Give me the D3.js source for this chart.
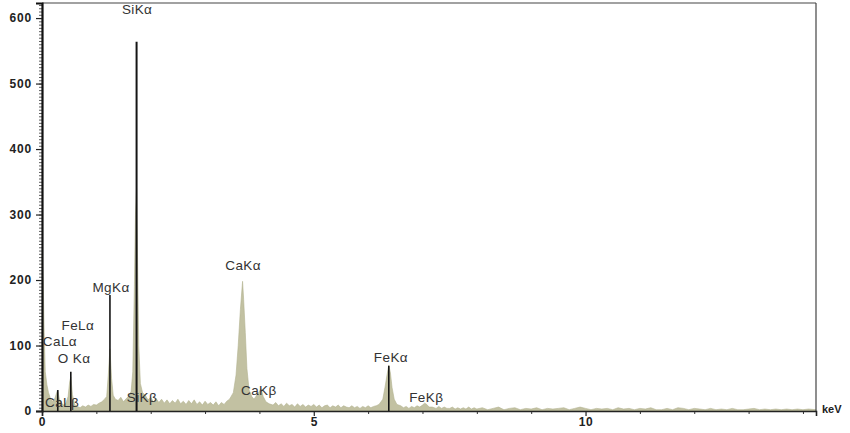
<!DOCTYPE html>
<html>
<head>
<meta charset="utf-8">
<script src="https://cdn.jsdelivr.net/npm/d3@7"></script>
<style>
  html, body { margin: 0; padding: 0; background: #fff; }
  svg { display: block; font-family: "Liberation Sans", Arial, sans-serif; }
</style>
</head>
<body>
<svg id="chart" width="850" height="433"></svg>
<script>
// ---- data ----
const xTicks = [0, 5, 10];
const xMinorTicks = [1, 2, 3, 4, 6, 7, 8, 9, 11, 12, 13, 14];
const yTicks = [0, 100, 200, 300, 400, 500, 600];
const xMax = 14.24;
const yMax = 623;

// spectrum: [keV, counts]
const spectrum = [
  [0,0],[0.005,238],[0.02,205],[0.04,120],[0.06,60],[0.09,40],[0.12,28],[0.16,18],[0.2,14],[0.24,20],
  [0.27,28],[0.29,32],[0.32,18],[0.36,12],[0.4,9],[0.44,12],[0.48,22],[0.51,45],[0.53,52],[0.56,25],[0.6,10],
  [0.65,7],[0.7,5],[0.75,8],[0.8,6],[0.85,9],[0.9,7],[0.95,10],[1.0,9],[1.05,12],[1.1,14],[1.15,18],
  [1.19,22],[1.22,55],[1.25,95],[1.28,50],[1.31,24],[1.35,18],
  [1.4,16],[1.45,21],[1.5,14],[1.55,19],[1.6,23],[1.64,30],
  [1.67,60],[1.7,190],[1.72,300],[1.74,340],[1.76,220],[1.78,100],[1.81,42],[1.85,28],
  [1.9,24],[1.95,17],[2.0,21],[2.05,14],[2.1,19],[2.15,13],[2.2,18],[2.25,12],[2.3,17],[2.35,11],
  [2.4,16],[2.45,12],[2.5,18],[2.55,11],[2.6,15],[2.65,10],[2.7,16],[2.75,11],[2.8,17],[2.85,10],
  [2.9,14],[2.95,9],[3.0,15],[3.05,10],[3.1,13],[3.15,9],[3.2,14],[3.25,8],[3.3,13],[3.35,10],
  [3.4,15],[3.45,18],
  [3.52,28],[3.57,55],[3.61,100],[3.65,155],[3.69,198],[3.71,170],[3.74,120],[3.77,65],[3.81,32],[3.86,22],
  [3.9,18],[3.95,24],[4.0,30],[4.03,34],[4.07,22],[4.12,14],[4.18,11],
  [4.25,9],[4.3,13],[4.35,8],[4.4,11],[4.45,7],[4.5,12],[4.55,8],[4.6,10],[4.65,6],[4.7,11],
  [4.75,7],[4.8,10],[4.85,6],[4.9,9],[4.95,7],[5.0,10],[5.05,6],[5.1,9],[5.15,5],[5.2,8],
  [5.25,9],[5.3,5],[5.35,8],[5.4,6],[5.45,9],[5.5,5],[5.55,8],[5.6,6],[5.65,5],[5.7,8],
  [5.75,5],[5.8,7],[5.85,4],[5.9,7],[5.95,5],[6.0,8],[6.05,5],[6.1,7],[6.15,8],[6.2,10],
  [6.27,18],[6.31,36],[6.35,56],[6.38,70],[6.41,58],[6.44,36],[6.48,18],[6.53,10],
  [6.6,8],[6.65,5],[6.7,7],[6.75,4],[6.8,7],[6.85,5],[6.9,8],[6.95,6],[7.0,9],[7.04,12],
  [7.08,10],[7.12,6],[7.18,6],[7.25,4],[7.3,7],[7.35,4],[7.4,6],[7.45,4],[7.5,4],[7.55,6],
  [7.6,3],[7.65,5],[7.7,3],[7.75,5],[7.8,3],[7.85,6],[7.9,3],[7.95,5],[8.0,3],
  [8.1,5],[8.2,2],[8.3,4],[8.4,6],[8.5,2],[8.6,4],[8.7,5],[8.8,2],[8.9,4],[9.0,3],
  [9.1,5],[9.2,2],[9.3,4],[9.4,3],[9.5,4],[9.6,5],[9.7,2],[9.8,4],[9.9,6],[10.0,4],
  [10.1,2],[10.2,4],[10.3,3],[10.4,4],[10.5,2],[10.6,5],[10.7,3],[10.8,4],[10.9,2],[11.0,4],
  [11.1,3],[11.2,5],[11.3,2],[11.4,2],[11.5,4],[11.6,2],[11.7,5],[11.8,4],[11.9,2],[12.0,4],
  [12.1,3],[12.2,2],[12.3,4],[12.4,2],[12.5,3],[12.6,2],[12.7,4],[12.8,2],[12.9,2],[13.0,3],
  [13.1,4],[13.2,2],[13.3,3],[13.4,2],[13.5,3],[13.6,2],[13.7,3],[13.8,2],[13.9,3],[14.0,2],
  [14.1,3],[14.24,2]
];

// marker lines: keV, counts
const markerKeV = [0.29, 0.53, 1.25, 1.74, 6.38];
const markerCounts = [32, 60, 177, 564, 69];

// peak labels: text, keV, counts (anchor of label)
const labelText = ["SiKα", "MgKα", "FeLα", "CaLα", "O Kα", "CaLβ", "SiKβ", "CaKα", "CaKβ", "FeKα", "FeKβ"];
const labelKeV = [1.75, 1.27, 0.66, 0.33, 0.59, 0.37, 1.84, 3.70, 3.99, 6.42, 7.07];
const labelCounts = [606, 182, 124, 99, 73, 6, 14, 215, 24, 75, 14];

// ---- drawing ----
const svg = d3.select("#chart");
const margin = {left: 42, top: 3, right: 34, bottom: 22};
const W = 850, H = 433;
const x = d3.scaleLinear().domain([0, xMax]).range([margin.left, W - margin.right]);
const y = d3.scaleLinear().domain([0, yMax]).range([H - margin.bottom, margin.top]);

// spectrum area
const area = d3.area().x(d => x(d[0])).y0(y(0)).y1(d => y(d[1])).curve(d3.curveLinear);
svg.append("path").datum(spectrum)
  .attr("d", area)
  .attr("fill", "#c2c1a2")
  .attr("stroke", "#b2b18e")
  .attr("stroke-width", 0.6);

// marker lines
svg.append("g").selectAll("line").data(markerKeV).join("line")
  .attr("x1", d => x(d)).attr("x2", d => x(d))
  .attr("y1", y(0)).attr("y2", (d, i) => y(markerCounts[i]))
  .attr("stroke", "#151515")
  .attr("stroke-width", (d, i) => markerCounts[i] > 300 ? 2 : 1.6);

// frame top and right
svg.append("line").attr("x1", x(0)).attr("x2", x(xMax)).attr("y1", y(yMax)).attr("y2", y(yMax))
  .attr("stroke", "#444").attr("stroke-width", 1.2);
svg.append("line").attr("x1", x(xMax)).attr("x2", x(xMax)).attr("y1", y(yMax)).attr("y2", y(0))
  .attr("stroke", "#444").attr("stroke-width", 1.2);

// y axis
const yMinor = d3.range(0, 621, 5);
const yAxisMinor = d3.axisLeft(y).tickValues(yMinor).tickSize(3).tickFormat("");
const gyMinor = svg.append("g").attr("transform", `translate(${x(0)},0)`).call(yAxisMinor);
gyMinor.select(".domain").remove();
gyMinor.selectAll("line").attr("stroke", "#333").attr("stroke-width", 0.8);

const yAxis = d3.axisLeft(y).tickValues(yTicks).tickSize(6).tickPadding(4).tickFormat(d3.format("d"));
const gy = svg.append("g").attr("transform", `translate(${x(0)},0)`).call(yAxis);
gy.select(".domain").attr("stroke", "#111").attr("stroke-width", 2.2);
gy.selectAll("line").attr("stroke", "#222").attr("stroke-width", 1.2);
gy.selectAll("text").attr("font-size", 12).attr("font-weight", "bold").attr("fill", "#222")
  .attr("letter-spacing", 0.8).attr("font-family", "Liberation Sans, Arial, sans-serif");

// x axis
const xAxisMinor = d3.axisBottom(x).tickValues(xMinorTicks).tickSize(3).tickFormat("");
const gxMinor = svg.append("g").attr("transform", `translate(0,${y(0)})`).call(xAxisMinor);
gxMinor.select(".domain").remove();
gxMinor.selectAll("line").attr("stroke", "#333").attr("stroke-width", 1);

const xAxis = d3.axisBottom(x).tickValues(xTicks).tickSize(5).tickPadding(1).tickFormat(d3.format("d"));
const gx = svg.append("g").attr("transform", `translate(0,${y(0)})`).call(xAxis);
gx.select(".domain").attr("stroke", "#222").attr("stroke-width", 1.6);
gx.selectAll("line").attr("stroke", "#222").attr("stroke-width", 1.2);
gx.selectAll("text").attr("font-size", 12).attr("font-weight", "bold").attr("fill", "#222")
  .attr("letter-spacing", 0.6).attr("font-family", "Liberation Sans, Arial, sans-serif");

// keV unit
svg.append("text").attr("x", x(xMax) + 6).attr("y", y(0) + 2)
  .attr("font-size", 11).attr("font-weight", "bold").attr("fill", "#222").text("keV");

// peak labels
svg.append("g").selectAll("text").data(labelText).join("text")
  .attr("x", (d, i) => x(labelKeV[i]))
  .attr("y", (d, i) => y(labelCounts[i]))
  .attr("text-anchor", "middle")
  .attr("font-size", 13.5)
  .attr("letter-spacing", 0.4)
  .attr("fill", "#333")
  .text(d => d);
</script>
</body>
</html>
